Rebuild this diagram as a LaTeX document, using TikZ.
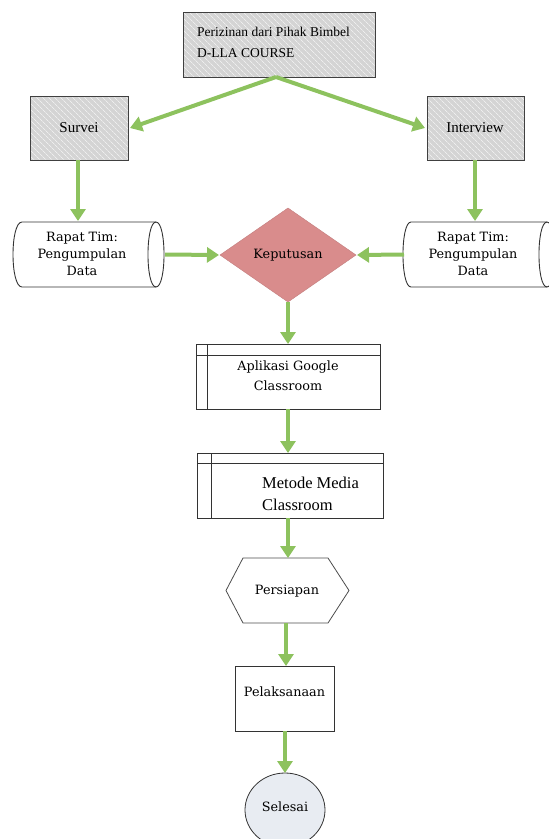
\documentclass[tikz,border=0pt]{standalone}
\usepackage{fontspec}
\setmainfont{Liberation Serif}
\newfontfamily\camb{DejaVu Serif}
\usetikzlibrary{arrows.meta,patterns.meta,shapes.geometric}
\definecolor{arrgreen}{RGB}{141,194,94}
\definecolor{diafill}{RGB}{217,140,140}
\definecolor{hatchgray}{RGB}{212,212,212}
\definecolor{endfill}{RGB}{232,236,242}
\tikzset{
  flow/.style={draw=arrgreen,line width=4pt,-{Triangle[width=15pt,length=12pt]}},
  hatchbox/.style={fill=hatchgray,postaction={pattern={Lines[angle=-45,distance=4pt,line width=0.7pt]},pattern color=white!60!hatchgray},postaction={draw=black!75,line width=1pt}},
  tnrtext/.style={font=\fontsize{15}{18}\selectfont},
  cambtext/.style={font=\camb\fontsize{12.8}{17}\selectfont},
  plainbox/.style={draw=black!80,line width=0.9pt},
}
\begin{document}
\begin{tikzpicture}[x=1pt,y=-1pt]
\useasboundingbox (0,0) rectangle (549,839);
% top box
\path[hatchbox] (183,12) rectangle (375,77);
\node[anchor=west,align=left,font=\fontsize{13.5}{21}\selectfont,inner sep=0] (top) at (197,42) {Perizinan dari Pihak Bimbel\\D-LLA COURSE};
\coordinate (topb) at (276,77);
% survei / interview
\path[hatchbox] (30,96) rectangle (128,160);
\node[tnrtext] (survei) at (79,128) {Survei};
\path[hatchbox] (427,96) rectangle (524,160);
\node[tnrtext] (interview) at (475,128) {Interview};
\coordinate (surR) at (130,128);
\coordinate (intL) at (425,128);
\coordinate (surB) at (78,160);
\coordinate (intB) at (475,160);
% left cylinder
\draw[plainbox,fill=white] (22,222) -- (156,222) .. controls (166.7,222) and (166.7,287) .. (156,287) -- (22,287) .. controls (10,287) and (10,222) .. (22,222) -- cycle;
\draw[plainbox] (156,222) .. controls (145.3,222) and (145.3,287) .. (156,287);
\node[cambtext,align=center] (cylL) at (82,254) {Rapat Tim:\\Pengumpulan\\Data};
\coordinate (cylLT) at (78,221);
\coordinate (cylLR) at (165,254.5);
% right cylinder
\draw[plainbox,fill=white] (411,222) -- (547,222) .. controls (557.7,222) and (557.7,287) .. (547,287) -- (411,287) .. controls (400.3,287) and (400.3,222) .. (411,222) -- cycle;
\draw[plainbox] (547,222) .. controls (536.3,222) and (536.3,287) .. (547,287);
\node[cambtext,align=center] (cylR) at (473,254) {Rapat Tim:\\Pengumpulan\\Data};
\coordinate (cylRT) at (475,221);
\coordinate (cylRL) at (404,254.5);
% diamond
\draw[fill=diafill,draw=diafill!90!black,line width=0.4pt] (288,208) -- (356,255) -- (288,302) -- (220,255) -- cycle;
\node[cambtext] (kep) at (288,255) {Keputusan};
\coordinate (diaL) at (219,255);
\coordinate (diaR) at (357,255);
\coordinate (diaB) at (288,302);
% aplikasi
\draw[plainbox] (196,344) rectangle (380,409);
\draw[plainbox] (196,355) -- (380,355);
\draw[plainbox] (207,344) -- (207,409);
\node[cambtext,align=center,font=\camb\fontsize{12.8}{20}\selectfont] (apl) at (288,376) {Aplikasi Google\\Classroom};
\coordinate (aplT) at (288,344);
\coordinate (aplB) at (288,409);
% metode
\draw[plainbox] (197,453) rectangle (383,518);
\draw[plainbox] (197,463) -- (383,463);
\draw[plainbox] (211,453) -- (211,518);
\node[anchor=west,align=left,font=\fontsize{16.5}{22}\selectfont,inner sep=0] (met) at (262,494) {Metode Media\\Classroom};
\coordinate (metT) at (288,453);
\coordinate (metB) at (288,518);
% persiapan hexagon
\draw[draw=black!70,line width=0.8pt] (243,558) -- (328,558) -- (349,590.5) -- (328,623) -- (243,623) -- (226,590.5) -- cycle;
\node[cambtext] (per) at (287,591) {Persiapan};
\coordinate (perT) at (288,558);
\coordinate (perB) at (286,623);
% pelaksanaan
\draw[plainbox] (235,666) rectangle (334,731);
\node[cambtext] (pel) at (284.5,692) {Pelaksanaan};
\coordinate (pelT) at (286,666);
\coordinate (pelB) at (285,731);
% selesai
\draw[draw=black!80,line width=0.8pt,fill=endfill] (285,810) ellipse[x radius=40,y radius=37];
\node[cambtext] (sel) at (285,807) {Selesai};
\coordinate (selT) at (285,773);
% arrows
\draw[flow] (topb) -- (surR);
\draw[flow] (topb) -- (intL);
\draw[flow] (surB) -- (cylLT);
\draw[flow] (intB) -- (cylRT);
\draw[flow] (cylLR) -- (diaL);
\draw[flow] (cylRL) -- (diaR);
\draw[flow] (diaB) -- (aplT);
\draw[flow] (aplB) -- (metT);
\draw[flow] (metB) -- (perT);
\draw[flow] (perB) -- (pelT);
\draw[flow] (pelB) -- (selT);
\end{tikzpicture}
\end{document}
